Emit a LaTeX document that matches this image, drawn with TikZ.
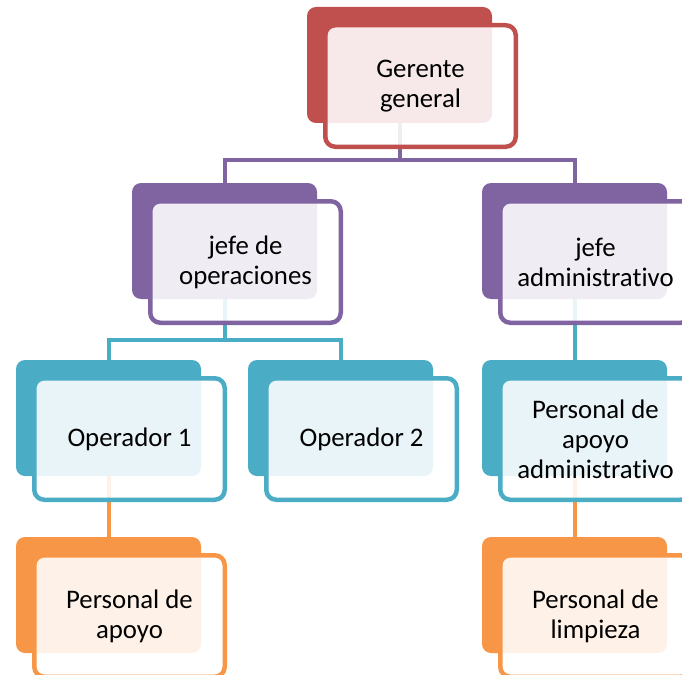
\documentclass[tikz,border=0pt]{standalone}
\usepackage{fontspec}
\setmainfont{Carlito}[Ligatures={NoCommon}]
\usetikzlibrary{backgrounds}
\definecolor{cred}{HTML}{C0504D}
\definecolor{cpurple}{HTML}{8064A2}
\definecolor{cblue}{HTML}{4BACC6}
\definecolor{corange}{HTML}{F79646}
\tikzset{
  backbox/.style={fill=#1, draw=none, rounded corners=9pt, minimum width=185pt, minimum height=116pt, inner sep=0pt},
  frontbox/.style={draw=#1, line width=4.5pt, fill=white, fill opacity=0.88, text opacity=1, rounded corners=10pt, minimum width=190.5pt, minimum height=121.5pt, align=center, font=\fontsize{26.8}{30}\selectfont, inner sep=0pt},
  link/.style={draw=#1, line width=4pt},
}
\newcommand\orgunit[5]{%
  \node[backbox=#4] (#1-b) at (#2+92.5, #3+58) {};
  \node[frontbox=#4] (#1) at (#2+113.5, #3+79) {#5};
}
\begin{document}
\begin{tikzpicture}[x=1pt,y=-1pt]
\useasboundingbox (0,0) rectangle (682,674);
\clip (0,0) rectangle (682,674);
\orgunit{gg}{307}{7}{cred}{Gerente\\general}
\orgunit{jo}{132}{183}{cpurple}{jefe de\\operaciones}
\orgunit{ja}{482}{183}{cpurple}{jefe\\administrativo}
\orgunit{oa}{16}{360}{cblue}{Operador 1}
\orgunit{ob}{248}{360}{cblue}{Operador 2}
\orgunit{pa}{482}{360}{cblue}{Personal de\\apoyo\\administrativo}
\orgunit{pb}{16}{537}{corange}{Personal de\\apoyo}
\orgunit{pl}{482}{537}{corange}{Personal de\\limpieza}
\begin{pgfonlayer}{background}
\draw[link=cpurple] (gg-b.south) -- ++(0,37) -| (jo-b.north);
\draw[link=cpurple] (gg-b.south) -- ++(0,37) -| (ja-b.north);
\draw[link=cblue] (jo-b.south) -- ++(0,41) -| (oa-b.north);
\draw[link=cblue] (jo-b.south) -- ++(0,41) -| (ob-b.north);
\draw[link=cblue] (ja-b.south) -- (pa-b.north);
\draw[link=corange] (oa-b.south) -- (pb-b.north);
\draw[link=corange] (pa-b.south) -- (pl-b.north);
\end{pgfonlayer}
\end{tikzpicture}
\end{document}
